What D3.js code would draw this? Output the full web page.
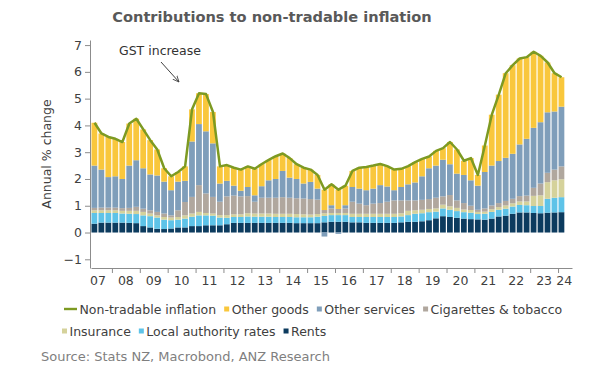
<!DOCTYPE html>
<html>
<head>
<meta charset="utf-8">
<script src="https://cdn.jsdelivr.net/npm/d3@7"></script>
<style>
  body { margin: 0; background: #fff; }
  svg { font-family: "DejaVu Sans", Verdana, sans-serif; }
</style>
</head>
<body>
<div id="container"></div>
<script>
/* CONSTANTS AND GLOBALS */
const width = 593, height = 371;

/* DATA (% pt contributions) */
const quarters = [
  "2007Q2","2007Q3","2007Q4",
  "2008Q1","2008Q2","2008Q3","2008Q4",
  "2009Q1","2009Q2","2009Q3","2009Q4",
  "2010Q1","2010Q2","2010Q3","2010Q4",
  "2011Q1","2011Q2","2011Q3","2011Q4",
  "2012Q1","2012Q2","2012Q3","2012Q4",
  "2013Q1","2013Q2","2013Q3","2013Q4",
  "2014Q1","2014Q2","2014Q3","2014Q4",
  "2015Q1","2015Q2","2015Q3","2015Q4",
  "2016Q1","2016Q2","2016Q3","2016Q4",
  "2017Q1","2017Q2","2017Q3","2017Q4",
  "2018Q1","2018Q2","2018Q3","2018Q4",
  "2019Q1","2019Q2","2019Q3","2019Q4",
  "2020Q1","2020Q2","2020Q3","2020Q4",
  "2021Q1","2021Q2","2021Q3","2021Q4",
  "2022Q1","2022Q2","2022Q3","2022Q4",
  "2023Q1","2023Q2","2023Q3","2023Q4",
  "2024Q1"
];

const rents = [
  .33,.37,.37, .37,.37,.36,.35, .24,.19,.14,.13, .15,.19,.19,.24, .24,.27,.27,.27,
  .31,.36,.36,.36, .36,.36,.36,.36, .36,.36,.35,.35, .35,.35,.38,.40, .40,.40,.38,.38,
  .36,.36,.36,.36, .36,.38,.40,.40, .42,.46,.53,.61, .58,.55,.52,.50, .49,.48,.52,.60,
  .63,.70,.75,.75, .73,.72,.74,.75, .76
];
const localRates = [
  .40,.36,.36, .36,.34,.34,.34, .40,.42,.42,.35, .31,.29,.33,.35, .40,.37,.36,.29,
  .24,.22,.22,.24, .23,.23,.23,.22, .22,.22,.22,.22, .22,.24,.24,.25, .25,.25,.20,.20,
  .22,.22,.22,.22, .22,.22,.25,.30, .30,.30,.25,.29, .27,.25,.24,.24, .20,.22,.25,.25,
  .26,.27,.28,.27, .26,.27,.52,.55, .56
];
const insurance = [
  .10,.10,.10, .10,.10,.11,.12, .13,.10,.08,.10, .10,.10,.12,.12, .13,.09,.08,.09,
  .10,.10,.10,.12, .12,.12,.12,.12, .12,.12,.12,.11, .10,.10,.10,.08, .08,.08,.12,.12,
  .12,.12,.12,.12, .12,.12,.16,.13, .13,.12,.12,.14, .13,.12,.10,.10, .08,.08,.10,.10,
  .12,.12,.13,.14, .38,.40,.62,.65, .67
];
const tobacco = [
  .09,.10,.10, .10,.10,.11,.15, .12,.12,.13,.13, .08,.25,.50,.62, 1.00,.73,.62,.50,
  .70,.70,.67,.64, .44,.59,.59,.60, .62,.60,.59,.59, .58,.54,.12,.17, .15,.17,.45,.38,
  .32,.38,.40,.45, .50,.48,.39,.37, .37,.37,.40,.31, .42,.28,.24,.16, .08,.12,.14,.15,
  .17,.17,.20,.22, .30,.44,.35,.40, .48
];
const otherServices = [
  1.58,1.42,1.14, 1.17,1.09,1.58,1.74, 1.51,1.34,1.36,1.19, .94,1.07,.79,2.07, 2.28,2.32,2.00,.68,
  .58,.37,.21,.34, .24,.43,.65,.70, .98,.75,.72,.56, .64,.41,-.15,.12, -.05,.12,.55,.56,
  .56,.56,.67,.57, .38,.50,.60,.67, .88,1.15,1.20,1.37, 1.15,1.00,1.05,.95, .90,1.36,1.49,1.57,
  1.61,1.68,1.93,2.12, 2.24,2.29,2.26,2.17, 2.23
];
const otherGoods = [
  1.60,1.35,1.50, 1.40,1.38,1.57,1.55, 1.45,1.28,.97,.50, .52,.36,.54,1.20, 1.15,1.39,1.17,.64,
  .59,.67,.79,.77, .99,.83,.76,.85, .65,.73,.55,.59, .46,.51,.76,.78, .72,.73,.60,.78,
  .87,.86,.79,.76, .77,.68,.68,.76, .65,.44,.55,.43, .83,.90,.53,.83, .40,.99,1.90,2.48,
  3.16,3.31,3.21,3.05, 2.84,2.48,1.86,1.43, 1.10
];
const nonTradable = [
  4.10,3.70,3.57, 3.50,3.38,4.07,4.25, 3.85,3.45,3.10,2.40, 2.10,2.26,2.47,4.60, 5.20,5.17,4.50,2.47,
  2.52,2.42,2.35,2.47, 2.38,2.56,2.71,2.85, 2.95,2.78,2.55,2.42, 2.35,2.15,1.60,1.80, 1.60,1.75,2.30,2.42,
  2.45,2.50,2.56,2.48, 2.35,2.38,2.48,2.63, 2.75,2.84,3.05,3.15, 3.38,3.10,2.68,2.78, 2.15,3.25,4.40,5.15,
  5.95,6.25,6.50,6.55, 6.75,6.60,6.35,5.95, 5.80
];

const yTicks = [-1, 0, 1, 2, 3, 4, 5, 6, 7];
const yearTicks = [2008,2009,2010,2011,2012,2013,2014,2015,2016,2017,2018,2019,2020,2021,2022,2023,2024];
const yearLabels = ["07","08","09","10","11","12","13","14","15","16","17","18","19","20","21","22","23","24"];

const series = [
  { key: "rents",    name: "Rents",                  color: "#0c3b5e", values: rents },
  { key: "local",    name: "Local authority rates",  color: "#5ec3e8", values: localRates },
  { key: "ins",      name: "Insurance",              color: "#d5d29b", values: insurance },
  { key: "tobacco",  name: "Cigarettes & tobacco",   color: "#b0a79e", values: tobacco },
  { key: "services", name: "Other services",         color: "#7f9eba", values: otherServices },
  { key: "goods",    name: "Other goods",            color: "#f9c73c", values: otherGoods }
];
const lineColor = "#7d9a22";

// table for the stack
const rows = quarters.map((q, i) => {
  const row = { t: +q.slice(0, 4) + (+q.slice(5) - 1) / 4 };
  series.forEach(s => row[s.key] = s.values[i]);
  row.total = nonTradable[i];
  return row;
});

/* SCALES */
const xScale = d3.scaleLinear()
  .domain([2007.25, 2024.5])
  .range([91, 572]);

const yScale = d3.scaleLinear()
  .domain([-1.325, 7.19])
  .range([268, 40]);

const stacked = d3.stack()
  .keys(series.map(s => s.key))
  .offset(d3.stackOffsetDiverging)(rows);

const svg = d3.select("#container").append("svg")
  .attr("width", width)
  .attr("height", height);

/* TITLE */
svg.append("text")
  .attr("x", 272)
  .attr("y", 22)
  .attr("text-anchor", "middle")
  .attr("font-size", 14.6)
  .attr("font-weight", "bold")
  .attr("fill", "#595959")
  .text("Contributions to non-tradable inflation");

/* BARS */
const qw = xScale(2007.5) - xScale(2007.25);
svg.append("g")
  .selectAll("g")
  .data(stacked)
  .join("g")
  .attr("fill", (d, i) => series[i].color)
  .selectAll("rect")
  .data(d => d)
  .join("rect")
  .attr("x", d => xScale(d.data.t) + 0.5)
  .attr("width", qw - 1.2)
  .attr("y", d => yScale(Math.max(d[0], d[1])))
  .attr("height", d => Math.abs(yScale(d[0]) - yScale(d[1])));

/* LINE */
const line = d3.line()
  .x(d => xScale(d.t + 0.125))
  .y(d => yScale(d.total));

svg.append("path")
  .datum(rows)
  .attr("fill", "none")
  .attr("stroke", lineColor)
  .attr("stroke-width", 2.5)
  .attr("stroke-linejoin", "round")
  .attr("d", line);

/* AXES */
const yAxis = d3.axisLeft(yScale)
  .tickValues(yTicks)
  .tickFormat(d3.format("d"))
  .tickSize(5)
  .tickSizeOuter(0);

const gy = svg.append("g")
  .attr("transform", "translate(90,0)")
  .call(yAxis);
gy.select(".domain").attr("stroke", "#8c8c8c");
gy.selectAll(".tick line").attr("stroke", "#8c8c8c");
gy.selectAll(".tick text")
  .attr("font-size", 12.5)
  .attr("font-family", "DejaVu Sans, Verdana, sans-serif")
  .attr("fill", "#404040")
  .attr("x", -8);

const xAxis = d3.axisBottom(xScale)
  .tickValues(yearTicks)
  .tickFormat("")
  .tickSize(5)
  .tickSizeOuter(0);

const gx = svg.append("g")
  .attr("transform", "translate(0,268)")
  .call(xAxis);
gx.select(".domain").attr("stroke", "#8c8c8c");
gx.selectAll(".tick line").attr("stroke", "#8c8c8c");

// year labels centred on each year
const labelPos = yearLabels.map((l, i) => i === yearLabels.length - 1 ? 2024.22 : 2007.5 + i);
svg.append("g")
  .selectAll("text")
  .data(yearLabels)
  .join("text")
  .attr("x", (d, i) => xScale(labelPos[i]))
  .attr("y", 285)
  .attr("text-anchor", "middle")
  .attr("font-size", 12.5)
  .attr("fill", "#404040")
  .text(d => d);

// y axis title
svg.append("text")
  .attr("transform", "translate(51,154) rotate(-90)")
  .attr("text-anchor", "middle")
  .attr("font-size", 12.5)
  .attr("fill", "#404040")
  .text("Annual % change");

/* ANNOTATION */
svg.append("defs").append("marker")
  .attr("id", "arrow")
  .attr("viewBox", "0 0 10 10")
  .attr("refX", 9).attr("refY", 5)
  .attr("markerWidth", 7).attr("markerHeight", 7)
  .attr("orient", "auto")
  .append("path")
  .attr("d", "M0,1 L9,5 L0,9")
  .attr("fill", "none")
  .attr("stroke", "#404040")
  .attr("stroke-width", 1.2);

svg.append("text")
  .attr("x", 119)
  .attr("y", 55)
  .attr("font-size", 12.5)
  .attr("fill", "#333")
  .text("GST increase");

svg.append("line")
  .attr("x1", 161).attr("y1", 62)
  .attr("x2", 179).attr("y2", 82)
  .attr("stroke", "#404040")
  .attr("stroke-width", 1)
  .attr("marker-end", "url(#arrow)");

/* LEGEND */
const legendRows = [
  [{ name: "Non-tradable inflation", color: lineColor, line: true },
   series[5], series[4], series[3]],
  [series[2], series[1], series[0]]
];
const legendY = [309, 331];
const legendX = [64, 62];

legendRows.forEach((items, r) => {
  let x = legendX[r];
  const g = svg.append("g");
  items.forEach(item => {
    if (item.line) {
      g.append("line")
        .attr("x1", x).attr("x2", x + 13)
        .attr("y1", legendY[r]).attr("y2", legendY[r])
        .attr("stroke", item.color)
        .attr("stroke-width", 2.4);
      x += 15.5;
    } else {
      g.append("rect")
        .attr("x", x).attr("y", legendY[r] - 2.5)
        .attr("width", 5).attr("height", 5)
        .attr("fill", item.color);
      x += 7.5;
    }
    const t = g.append("text")
      .attr("x", x)
      .attr("y", legendY[r] + 4.5)
      .attr("font-size", 12.5)
      .attr("fill", "#404040")
      .text(item.name);
    x += t.node().getComputedTextLength() + 8;
  });
});

/* SOURCE */
svg.append("text")
  .attr("x", 41)
  .attr("y", 361)
  .attr("font-size", 13)
  .attr("fill", "#7f7f7f")
  .text("Source: Stats NZ, Macrobond, ANZ Research");
</script>
</body>
</html>
